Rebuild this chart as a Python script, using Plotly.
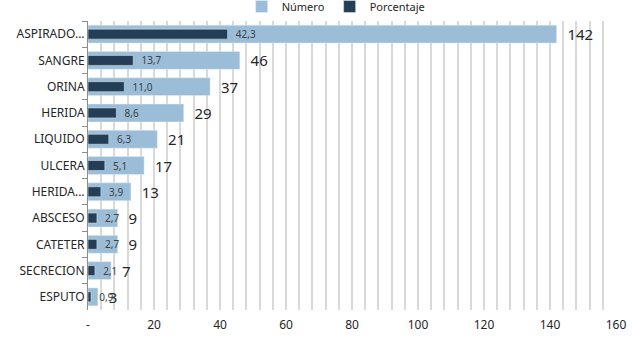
import plotly.graph_objects as go

categories = ["ASPIRADO...", "SANGRE", "ORINA", "HERIDA", "LIQUIDO", "ULCERA",
              "HERIDA...", "ABSCESO", "CATETER", "SECRECION", "ESPUTO"]
numero = [142, 46, 37, 29, 21, 17, 13, 9, 9, 7, 3]
porcentaje = [42.3, 13.7, 11.0, 8.6, 6.3, 5.1, 3.9, 2.7, 2.7, 2.1, 0.9]
x_tickvals = [0, 20, 40, 60, 80, 100, 120, 140, 160]
x_ticktext = ["-", "20", "40", "60", "80", "100", "120", "140", "160"]

light = "#9BBDD8"
dark = "#243F55"
font_family = "Noto Sans, DejaVu Sans, sans-serif"

pct_text = ["  " + f"{v:.1f}".replace(".", ",") for v in porcentaje]
num_text = ["  " + str(v) for v in numero]

fig = go.Figure()
fig.add_trace(go.Bar(
    y=categories, x=numero, orientation="h", name="Número",
    marker=dict(color=light), width=0.68,
    text=num_text, textposition="outside", constraintext="none",
    textfont=dict(size=15, color="#262626", family=font_family),
    cliponaxis=False,
))
fig.add_trace(go.Bar(
    y=categories, x=porcentaje, orientation="h", name="Porcentaje",
    marker=dict(color=dark), width=0.38,
    text=pct_text, textposition="outside", constraintext="none",
    textfont=dict(size=10, color="#404040", family=font_family),
    cliponaxis=False,
))

fig.update_layout(
    width=642, height=344,
    barmode="overlay",
    margin=dict(l=88, r=26, t=21, b=34, autoexpand=False),
    paper_bgcolor="white", plot_bgcolor="white",
    font=dict(family=font_family, size=12, color="#262626"),
    legend=dict(orientation="h", x=0.47, xanchor="center",
                yref="paper", y=1.0, yanchor="bottom",
                font=dict(size=11, color="#262626"), traceorder="normal",
                itemwidth=30, tracegroupgap=0, bgcolor="rgba(0,0,0,0)"),
    showlegend=True,
)
fig.update_xaxes(
    range=[0, 160], tickvals=x_tickvals, ticktext=x_ticktext,
    showgrid=True, gridcolor="#D9D9D9", gridwidth=1.5,
    minor=dict(dtick=4, showgrid=True, gridcolor="#D9D9D9", gridwidth=1.5),
    zeroline=False, showline=False, ticks="", ticklabelstandoff=6,
    tickfont=dict(size=12, color="#262626"),
)
fig.update_yaxes(
    autorange="reversed", type="category",
    showline=True, linecolor="#8C8C8C", linewidth=1,
    ticks="outside", ticklen=5, tickcolor="#8C8C8C", tickson="boundaries",
    tickfont=dict(size=12, color="#262626"), showgrid=False,
)

fig.write_html("out.html")
